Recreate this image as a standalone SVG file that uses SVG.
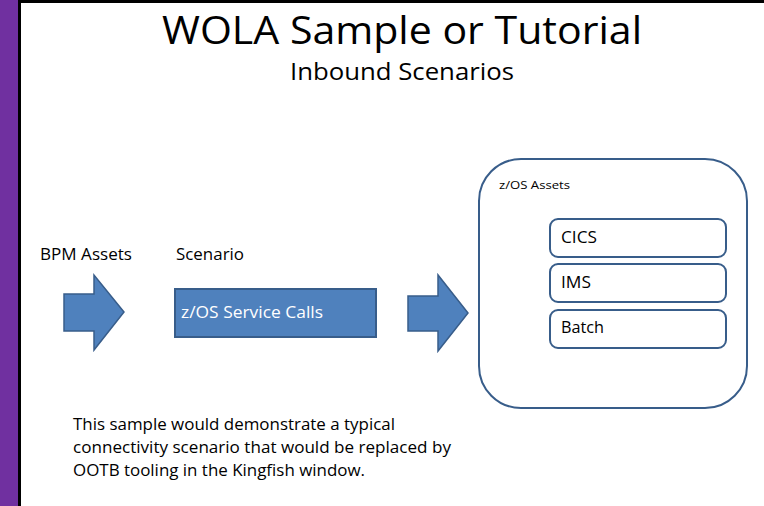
<svg xmlns="http://www.w3.org/2000/svg" width="764" height="506" viewBox="0 0 764 506">
<style>
text{font-family:"Open Sans","Liberation Sans",sans-serif;fill:#000}
.lbl{font-size:15.5px}
.arrow{fill:#4F81BD;stroke:#385D8A;stroke-width:1.5}
.box{fill:#fff;stroke:#385D8A;stroke-width:2}
</style>
<rect x="0" y="0" width="764" height="506" fill="#fff"/>
<rect x="0" y="0" width="18" height="506" fill="#7030A0"/>
<rect x="18" y="0" width="3" height="506" fill="#000"/>
<rect x="18" y="0" width="746" height="3" fill="#000"/>
<text x="402" y="44" font-size="39" text-anchor="middle" textLength="480" lengthAdjust="spacingAndGlyphs">WOLA Sample or Tutorial</text>
<text x="402" y="80" font-size="23" text-anchor="middle" textLength="224" lengthAdjust="spacingAndGlyphs">Inbound Scenarios</text>
<g id="bpm-assets">
<text class="lbl" x="40" y="260" textLength="92" lengthAdjust="spacingAndGlyphs">BPM Assets</text>
</g>
<g id="scenario">
<text class="lbl" x="176" y="260" textLength="68" lengthAdjust="spacingAndGlyphs">Scenario</text>
</g>
<g id="connectors">
<polygon class="arrow" points="64,294 94,294 94,275 124,312 94,350 94,331 64,331"/>
<polygon class="arrow" points="408,296 438,296 438,275 468,313 438,351 438,331 408,331"/>
</g>
<g id="service-calls">
<rect x="175" y="289" width="201" height="48" fill="#4F81BD" stroke="#385D8A" stroke-width="2"/>
<text x="181" y="318" font-size="16" style="fill:#fff" textLength="142" lengthAdjust="spacingAndGlyphs">z/OS Service Calls</text>
</g>
<g id="zos-assets">
<rect class="box" x="479" y="159" width="268" height="249" rx="42"/>
<text x="499" y="189" font-size="11.5" textLength="71" lengthAdjust="spacingAndGlyphs">z/OS Assets</text>
</g>
<g id="cics">
<rect class="box" x="550" y="219" width="176" height="38" rx="8"/>
<text class="lbl" x="561" y="243" textLength="36" lengthAdjust="spacingAndGlyphs">CICS</text>
</g>
<g id="ims">
<rect class="box" x="550" y="264" width="176" height="38" rx="8"/>
<text class="lbl" x="561" y="288" textLength="30" lengthAdjust="spacingAndGlyphs">IMS</text>
</g>
<g id="batch">
<rect class="box" x="550" y="310" width="176" height="38" rx="8"/>
<text class="lbl" x="561" y="333" textLength="43" lengthAdjust="spacingAndGlyphs">Batch</text>
</g>
<g id="note">
<text class="lbl" x="73" y="430" textLength="322" lengthAdjust="spacingAndGlyphs">This sample would demonstrate a typical</text>
<text class="lbl" x="73" y="453" textLength="378" lengthAdjust="spacingAndGlyphs">connectivity scenario that would be replaced by</text>
<text class="lbl" x="73" y="476" textLength="292" lengthAdjust="spacingAndGlyphs">OOTB tooling in the Kingfish window.</text>
</g>
</svg>
